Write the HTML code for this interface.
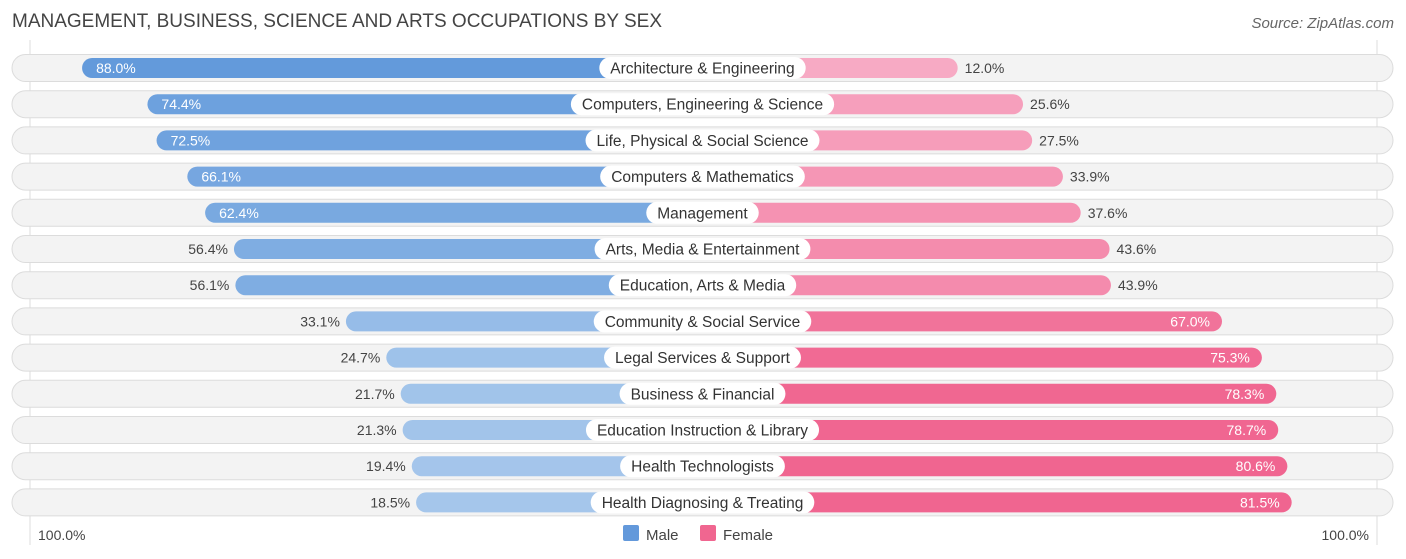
<!DOCTYPE html>
<html><head><meta charset="utf-8"><style>
body{margin:0;background:#fff;font-family:"Liberation Sans",sans-serif;}
#wrap{position:relative;width:1406px;height:559px;overflow:hidden;}
.t{position:absolute;white-space:nowrap;}
</style></head><body>
<div id="wrap">
<div class="t" style="left:12px;top:11px;font-size:19px;color:#444;">MANAGEMENT, BUSINESS, SCIENCE AND ARTS OCCUPATIONS BY SEX</div>
<div class="t" style="right:12px;top:15px;font-size:15px;color:#666;font-style:italic;">Source: ZipAtlas.com</div>
<svg id="svg" width="1406" height="559" style="position:absolute;left:0;top:0"></svg>
</div>
<script>
const categories=["Architecture & Engineering","Computers, Engineering & Science","Life, Physical & Social Science","Computers & Mathematics","Management","Arts, Media & Entertainment","Education, Arts & Media","Community & Social Service","Legal Services & Support","Business & Financial","Education Instruction & Library","Health Technologists","Health Diagnosing & Treating"];
const maleValues=[88.0,74.4,72.5,66.1,62.4,56.4,56.1,33.1,24.7,21.7,21.3,19.4,18.5];
const femaleValues=[12.0,25.6,27.5,33.9,37.6,43.6,43.9,67.0,75.3,78.3,78.7,80.6,81.5];
const axisLabels=["100.0%","100.0%"];

const svg=document.getElementById('svg');
const NS='http://www.w3.org/2000/svg';
const cx=702.5, base=197.5, scale=4.806;
function xMale(v){return cx-base-v*scale;}
function xFemale(v){return cx+base+v*scale;}
function rowY(i){return 68+i*36.2;}
function mix(a,b,t){return 'rgb('+a.map((c,k)=>Math.round(c+(b[k]-c)*t)).join(',')+')';}
function mk(tag,attrs){const e=document.createElementNS(NS,tag);for(const k in attrs)e.setAttribute(k,attrs[k]);svg.appendChild(e);return e;}
const gl=mk('line',{x1:30,x2:30,y1:40,y2:545,stroke:'#ddd'});


const gr=mk('line',{x1:1377,x2:1377,y1:40,y2:545,stroke:'#ddd'});


categories.forEach((c,i)=>{
  const y=rowY(i);
  const bg=mk('rect',{x:12,y:y-13.5,width:1381,height:27,rx:13.5,fill:'#f3f3f3',stroke:'#dcdcdc'});
  
  
  const m=maleValues[i], f=femaleValues[i];
  const mc=mix([168,200,236],[99,154,219],Math.min(1,Math.max(0,(m-15)/70)));
  const fc=mix([247,170,196],[240,101,144],Math.min(1,Math.max(0,(f-15)/65)));
  const mx=xMale(m);
  const mb=mk('rect',{x:mx,y:y-10,width:cx-mx,height:20,rx:10,fill:mc});
  
  
  const fx=xFemale(f);
  const fb=mk('rect',{x:cx,y:y-10,width:fx-cx,height:20,rx:10,fill:fc});
  
  
  const inM=m>60;
  const mt=mk('text',{x:inM?mx+14:mx-6,y:y+5,'font-size':14,'text-anchor':inM?'start':'end',fill:inM?'#fff':'#444','font-family':'Liberation Sans, sans-serif'});
  mt.textContent=m.toFixed(1)+'%';
  
  
  const inF=f>60;
  const ft=mk('text',{x:inF?fx-12:fx+7,y:y+5,'font-size':14,'text-anchor':inF?'end':'start',fill:inF?'#fff':'#444','font-family':'Liberation Sans, sans-serif'});
  ft.textContent=f.toFixed(1)+'%';
  
  
  const lt=mk('text',{x:cx,y:y+5.5,'font-size':15.5,'text-anchor':'middle',fill:'#333','font-family':'Liberation Sans, sans-serif'});
  lt.textContent=c;
  const w=lt.getComputedTextLength()+22;
  const pill=mk('rect',{x:cx-w/2,y:y-11,width:w,height:22,rx:11,fill:'#fff'});
  
  
  svg.appendChild(lt);
  
  
});
const al=mk('text',{x:38,y:540,'font-size':14,fill:'#444','font-family':'Liberation Sans, sans-serif'});
al.textContent=axisLabels[0];


const ar=mk('text',{x:1369,y:540,'font-size':14,fill:'#444','text-anchor':'end','font-family':'Liberation Sans, sans-serif'});
ar.textContent=axisLabels[1];


const lm=mk('rect',{x:623,y:525,width:16,height:16,rx:2,fill:'#6399db'});


const lmt=mk('text',{x:646,y:540,'font-size':15,fill:'#444','font-family':'Liberation Sans, sans-serif'});
lmt.textContent='Male';


const lf=mk('rect',{x:700,y:525,width:16,height:16,rx:2,fill:'#f06690'});


const lft=mk('text',{x:723,y:540,'font-size':15,fill:'#444','font-family':'Liberation Sans, sans-serif'});
lft.textContent='Female';


</script>
</body></html>
